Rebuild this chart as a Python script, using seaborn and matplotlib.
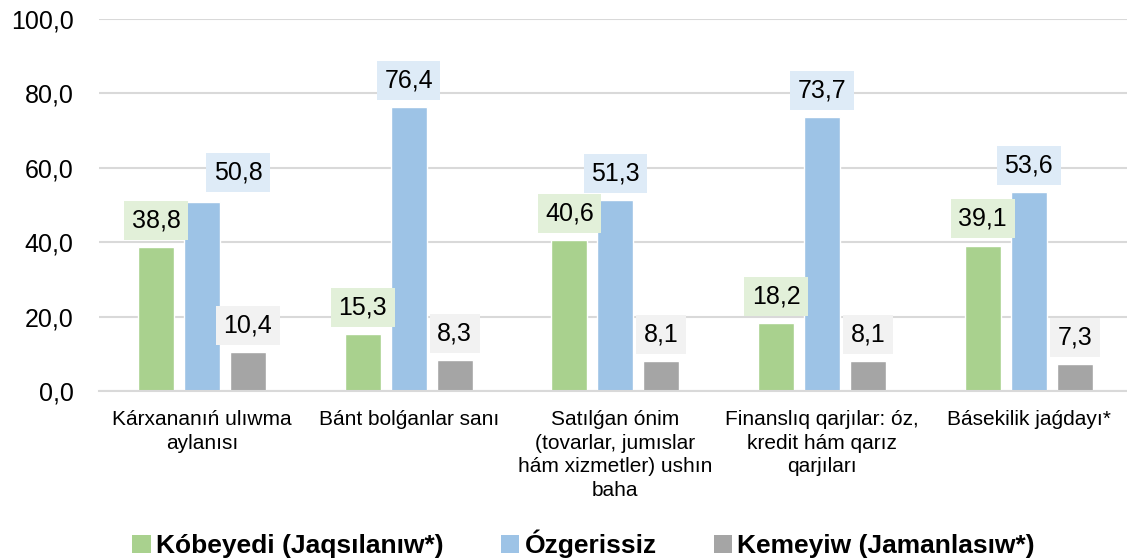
import pandas as pd
import seaborn as sns
import matplotlib.pyplot as plt
from matplotlib.patches import Patch
from matplotlib.ticker import FuncFormatter

categories = [
    "Kárxananıń ulıwma\naylanısı",
    "Bánt bolǵanlar sanı",
    "Satılǵan ónim\n(tovarlar, jumıslar\nhám xizmetler) ushın\nbaha",
    "Finanslıq qarjılar: óz,\nkredit hám qarız\nqarjıları",
    "Básekilik jaǵdayı*",
]
series = ["Kóbeyedi (Jaqsılanıw*)", "Ózgerissiz", "Kemeyiw (Jamanlasıw*)"]
improved = [38.8, 15.3, 40.6, 18.2, 39.1]
unchanged = [50.8, 76.4, 51.3, 73.7, 53.6]
worse = [10.4, 8.3, 8.1, 8.1, 7.3]

bar_colors = ["#A9D18E", "#9DC3E6", "#A5A5A5"]
box_colors = ["#E2F0D9", "#DEEBF7", "#F2F2F2"]

df = pd.DataFrame({
    "category": categories * 3,
    "series": [s for s in series for _ in categories],
    "value": improved + unchanged + worse,
})

sns.set_style("white")
plt.rcParams["font.family"] = ["Liberation Sans", "DejaVu Sans"]
plt.rcParams["text.color"] = "black"
plt.rcParams["xtick.color"] = "black"
plt.rcParams["ytick.color"] = "black"

fig = plt.figure(figsize=(11.27, 5.58), dpi=100)
ax = fig.add_axes([0.0875, 0.2993, 0.917, 0.6667])

sns.barplot(data=df, x="category", y="value", hue="series", palette=bar_colors,
            width=0.667, gap=0.22, saturation=1, ax=ax, legend=False)

ax.set_ylim(0, 100)
ax.set_yticks(range(0, 101, 20))
ax.yaxis.set_major_formatter(FuncFormatter(lambda v, p: f"{v:.1f}".replace(".", ",")))
ax.grid(axis="y", color="#D9D9D9", linewidth=1.5)
ax.set_axisbelow(True)
for side in ["left", "right", "top"]:
    ax.spines[side].set_visible(False)
ax.spines["bottom"].set_color("#D9D9D9")
ax.spines["bottom"].set_linewidth(1.5)
ax.tick_params(axis="y", length=0, pad=18, labelsize=18)
ax.tick_params(axis="x", length=0, pad=13.5, labelsize=15)
for t in ax.get_xticklabels():
    t.set_linespacing(1.32)
ax.set_xlabel("")
ax.set_ylabel("")

# data labels with coloured boxes
for i, cont in enumerate(ax.containers):
    labels = [f"{v:.1f}".replace(".", ",") for v in cont.datavalues]
    anns = ax.bar_label(cont, labels=labels, padding=10.5, fontsize=18, color="black",
                        bbox=dict(boxstyle="square,pad=0.3", fc=box_colors[i], ec="none"))
    if i == 1:
        anns[0].xyann = (26, 12.5)

handles = [Patch(facecolor=c, edgecolor="none") for c in bar_colors]
fig.legend(handles, series, loc="center", bbox_to_anchor=(0.518, 0.025), ncol=3,
           frameon=False, prop={"weight": "bold", "size": 19},
           handlelength=0.7, handleheight=0.7, handletextpad=0.2, columnspacing=2.16,
           borderpad=0, borderaxespad=0)

fig.savefig("out.png", dpi=100)
